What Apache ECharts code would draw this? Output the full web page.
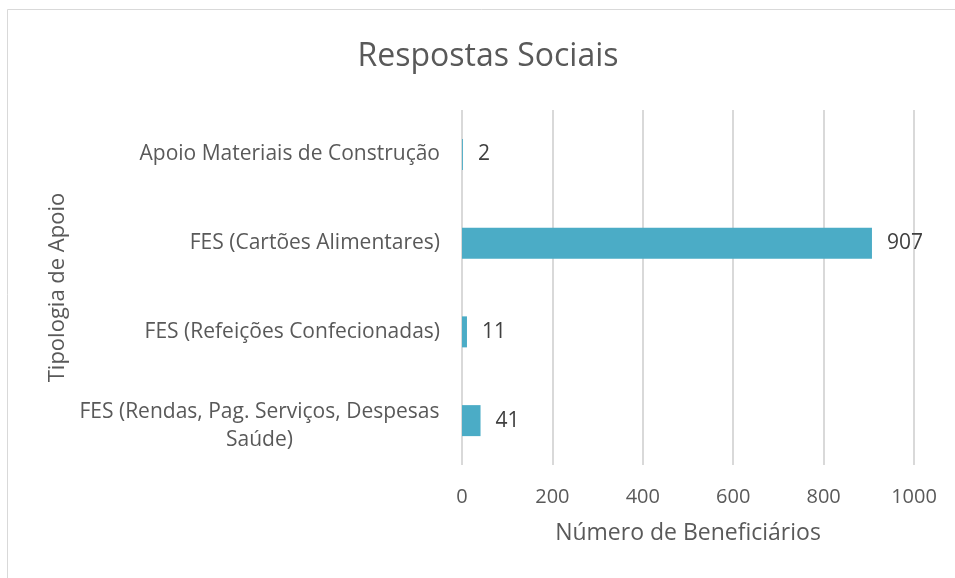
<!DOCTYPE html>
<html>
<head>
<meta charset="utf-8">
<script src="https://cdn.jsdelivr.net/npm/echarts@6/dist/echarts.min.js"></script>
<style>
  html, body { margin: 0; padding: 0; background: #fff; }
  #chart { width: 955px; height: 578px; }
</style>
</head>
<body>
<div id="chart"></div>
<script>
// data
var categories = [
  'Apoio Materiais de Construção',
  'FES (Cartões Alimentares)',
  'FES (Refeições Confecionadas)',
  'FES (Rendas, Pag. Serviços, Despesas\nSaúde)'
];
var beneficiarios = [2, 907, 11, 41];
var xTicks = [0, 200, 400, 600, 800, 1000];

var FONT = '"Open Sans", "Noto Sans", sans-serif';
var LABEL_SIZE = 21;

// width of the longest line so wrapped labels can be centred under it
function textWidth(str, size) {
  var c = document.createElement('canvas').getContext('2d');
  c.font = size + 'px ' + FONT;
  return Math.ceil(c.measureText(str).width);
}

// two-line label sits a bit lower in the original
var yData = categories.map(function (c) {
  if (c.indexOf('\n') < 0) return c;
  return {value: c, textStyle: {padding: [10, 0, 0, 0]}};
});

var myChart = echarts.init(document.getElementById('chart'), null, {renderer: 'canvas'});

var option = {
  backgroundColor: '#ffffff',
  animation: false,
  title: {
    text: 'Respostas Sociais',
    left: 483,
    top: 36,
    textAlign: 'center',
    textStyle: {
      fontFamily: FONT,
      fontSize: 32,
      fontWeight: 'normal',
      color: '#595959'
    }
  },
  graphic: [{
    type: 'rect',
    shape: {x: 7.5, y: 9.5, width: 1000, height: 1000},
    style: {fill: null, stroke: '#d9d9d9', lineWidth: 1},
    silent: true
  }],
  grid: {
    left: 462,
    right: 41,
    top: 110,
    bottom: 113
  },
  xAxis: {
    type: 'value',
    min: xTicks[0],
    max: xTicks[xTicks.length - 1],
    interval: 200,
    name: 'Número de Beneficiários',
    nameLocation: 'middle',
    nameGap: 57,
    nameTextStyle: {
      fontFamily: FONT,
      fontSize: 23,
      color: '#595959'
    },
    axisLine: {show: false},
    axisTick: {show: false},
    axisLabel: {
      margin: 22,
      fontFamily: FONT,
      fontSize: 20,
      color: '#595959',
      formatter: function (v) { return String(v); }
    },
    splitLine: {
      lineStyle: {color: '#d9d9d9', width: 2}
    }
  },
  yAxis: {
    type: 'category',
    inverse: true,
    data: yData,
    name: 'Tipologia de Apoio',
    nameLocation: 'middle',
    nameRotate: 90,
    nameGap: 393,
    nameTextStyle: {
      fontFamily: FONT,
      fontSize: 22,
      color: '#595959'
    },
    axisLine: {show: false},
    axisTick: {show: false},
    axisLabel: {
      margin: 22,
      fontFamily: FONT,
      fontSize: LABEL_SIZE,
      color: '#595959',
      lineHeight: 28,
      formatter: function (val) {
        var lines = val.split('\n');
        if (lines.length < 2) return val;
        return lines.map(function (l) { return '{c|' + l + '}'; }).join('\n');
      },
      rich: {
        c: {
          width: textWidth(categories[3].split('\n')[0], LABEL_SIZE),
          align: 'center',
          fontFamily: FONT,
          fontSize: LABEL_SIZE,
          color: '#595959',
          lineHeight: 28
        }
      }
    }
  },
  series: [{
    name: 'Número de Beneficiários',
    type: 'bar',
    data: beneficiarios,
    barWidth: 31,
    itemStyle: {
      color: '#4bacc6'
    },
    label: {
      show: true,
      position: 'right',
      distance: 15,
      fontFamily: FONT,
      fontSize: 21,
      color: '#404040'
    }
  }]
};

myChart.setOption(option);
</script>
</body>
</html>
